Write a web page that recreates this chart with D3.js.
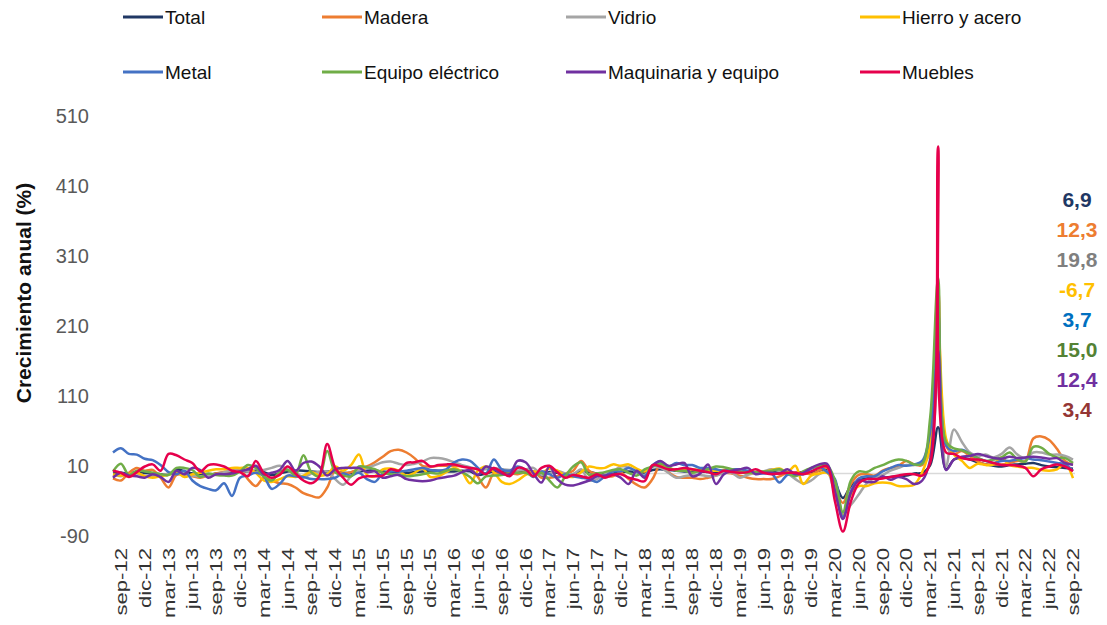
<!DOCTYPE html>
<html>
<head>
<meta charset="utf-8">
<script src="https://cdn.jsdelivr.net/npm/d3@7"></script>
<style>
body { margin: 0; background: #fff; }
text { font-family: "Liberation Sans", Arial, sans-serif; }
</style>
</head>
<body>
<div id="chart"></div>
<script>
// Month categories, ago-12 to sep-22.
const monthNames = ["ene", "feb", "mar", "abr", "may", "jun", "jul", "ago", "sep", "oct", "nov", "dic"];
const months = [];
for (let yr = 2012; yr <= 2022; yr++) {
    for (let m = 0; m < 12; m++) {
        if ((yr === 2012 && m < 7) || (yr === 2022 && m > 8)) continue;
        months.push(monthNames[m] + "-" + String(yr).slice(2));
    }
}

// Annual growth (%) per sector.
const total = [0, 1, 0, 2, 1, 0, -1, -2, 6, 3, 0, -1, -2, 0, 1, 2, 3, 3, 4, 2, -2, 0, 3, 4, 4, 3, 2, 3, 2, 1, 1,
    3, 4, 4, 3, 2, 2, 1, 2, 3, 4, 4, 3, 3, 4, 3, -2, 0, 3, 2, 1, 3, 4, 3, -4, 2, 1, -3, -1, 3, 2, 0,
    -1, 0, 2, 3, 2, 1, 5, 6, 5, 4, 3, 3, 3, 2, 1, 1, 2, 2, 0, 1, 2, 2, 1, 0, 1, 2, 1, 4, 6, -12,
    -35, -18, -10, -7, -6, -6, -5, -4, -3, 0, 1, 12, 66, 6, 20, 22, 20, 16, 13, 11, 10, 12, 13, 14, 15, 12, 10, 9, 8, 6.9];
const madera = [-7, -10, 1, 8, 4, 5, -6, -20, -2, -2, -4, -6, -3, 0, 2, 4, 6, -8, -18, -6, -10, -14, -15, -20, -28, -32, -34, -20, 4, 0, 2,
    6, 10, 16, 24, 32, 34, 30, 22, 11, 10, 11, 11, 11, 10, 8, -5, -20, 0, -1, 0, -1, 2, 3, -6, -6, -4, 0, 4, 18, 4, -1,
    -4, -4, 1, -8, -16, -20, -8, 12, 2, -5, -6, -6, -8, -6, -3, 1, 0, -3, -6, -8, -8, -8, -4, 1, 1, 1, -1, 4, 8, -20,
    -42, -15, -2, -1, -3, 4, 8, 11, 18, 13, 12, 60, 263, 40, 28, 32, 25, 17, 13, 13, 13, 15, 18, 18, 50, 53, 48, 35, 18, 12.3];
const vidrio = [-2, -4, -1, 0, -3, -4, -3, 0, 2, -2, -3, -4, -3, -1, 2, 4, 4, 3, 2, 5, 8, 11, 6, 2, -6, 0, 2, 3, -8, -16, -4,
    4, 8, 12, 16, 17, 14, 12, 14, 17, 22, 22, 20, 16, 12, 9, 6, 6, 8, 6, 5, 4, 6, 8, -2, 0, 4, 0, -1, 6, -10, -8,
    -1, 3, 10, 9, 2, -2, 10, 8, 1, -6, -4, -2, -2, -4, -3, 1, 1, -6, -2, 1, 3, 6, 4, 0, -8, -14, -10, -1, 3, -30,
    -56, -45, -30, -14, -6, -2, 4, 8, 12, 12, 14, 30, 134, 10, 63, 45, 30, 25, 27, 23, 28, 37, 27, 22, 30, 30, 27, 27, 25, 19.8];
const hierro = [-1, -3, -1, 1, -4, -6, -4, -2, 2, -5, -1, 1, 4, 6, 6, 8, 8, 8, 1, -10, -12, -8, -4, -5, -3, 2, -3, -1, 10, 4, 12,
    27, -2, -4, 6, 7, 4, -3, 1, 7, -5, -4, 2, 8, 2, -14, 4, 10, 2, -12, -15, -10, -2, 3, 1, 7, 4, -3, -5, 2, 10, 8,
    8, 13, 11, 13, 7, 3, 11, 13, 8, 5, 5, 6, 5, 4, 4, 5, 6, 2, 1, 1, 2, 5, 7, 2, 11, -15, -3, 0, 1, -15,
    -60, -30, -18, -18, -14, -13, -14, -18, -18, -16, 2, 40, 200, 50, 27, 18, 8, 14, 12, 13, 23, 12, 10, 8, 8, 5, 4, 6, 14, -6.7];
const metal = [30, 36, 28, 27, 21, 19, 12, 2, -1, 4, -10, -18, -22, -24, -14, -32, -6, -3, 1, -4, -22, -15, -3, -4, -5, -8, -8, -8, -6, 0, -3,
    1, -8, -12, 0, 3, 3, 4, 6, 8, 5, 4, 6, 16, 20, 18, 8, 0, 20, 6, 4, 10, 5, -5, 3, -1, -6, -1, -4, -6, -8, -12,
    -4, 3, 3, 8, 3, -4, 12, 17, 10, 15, 12, 12, 8, 8, 6, 4, 6, 6, 4, 1, 0, 0, -13, -2, -1, -1, 7, 10, 2, -8,
    -62, -25, -7, -4, -4, 3, 8, 12, 11, 13, 18, 60, 230, 40, 32, 34, 28, 22, 18, 15, 18, 18, 20, 22, 20, 19, 17, 15, 13, 3.7];
const equipo = [3, 14, -2, 4, 3, 1, -1, -2, 8, 8, 5, -5, 0, -2, -3, -3, 3, 12, 8, -4, -10, 2, 5, -2, 26, 2, -4, 32, 2, -3, -4,
    10, 9, 6, 1, -1, -2, -4, -3, -1, 1, 0, 4, 6, 2, -5, -14, -4, -3, -2, 0, 1, 1, -4, 1, -10, -20, -4, 10, 16, -2, 0,
    2, 5, 6, 1, -3, 6, 10, 14, 9, 4, 4, 1, 4, 6, 10, 9, 6, 3, 1, 2, 3, 4, 6, 1, -4, 3, 8, 11, 12, -10,
    -55, -10, 3, 2, 8, 12, 17, 20, 18, 13, 14, 80, 280, 45, 36, 33, 28, 22, 18, 20, 23, 30, 20, 17, 38, 37, 28, 23, 22, 15.0];
const maquinaria = [-6, 1, -3, -4, -6, -1, -5, -12, 4, -1, 8, 5, -6, -1, -1, 0, 3, 6, 11, -1, 1, 5, 18, 4, 15, 17, 10, -3, 6, 8, 8,
    8, 2, 3, -6, -4, -2, -8, -10, -11, -10, -7, -5, -3, 2, 5, -2, 10, 6, 0, -1, 18, 16, 0, -13, 10, -8, -16, -17, -14, -10, -4,
    -3, -1, -6, -15, 4, -6, 11, 18, 11, 13, 15, -4, 0, 13, -15, -1, 4, 6, 8, -1, 1, 1, 0, 6, -1, 1, 8, 13, 14, -25,
    -65, -28, -10, -12, -12, -4, -9, -5, -8, -15, -10, 20, 176, 5, 20, 24, 25, 28, 25, 22, 21, 24, 22, 23, 24, 23, 21, 22, 15, 12.4];
const muebles = [4, 1, -5, 2, 10, 13, 4, 28, 26, 20, 15, 3, 12, 13, 10, 4, 2, -4, 18, 1, -6, -2, 10, 0, -10, -14, -4, 42, 8, -6, -16,
    -7, -4, -4, -3, 6, 4, 15, 16, 18, 10, 12, 13, 13, 10, 8, 6, -1, 8, 2, -4, 8, 6, -4, 8, 11, 2, -6, -2, -4, -6, -1,
    -6, -2, -1, -6, -9, -11, 12, 10, 6, 6, 8, 6, 4, 2, -1, 4, 2, 1, 2, 6, 1, -1, 0, 1, 1, -1, 3, 8, 10, -40,
    -83, -40, -14, -8, -8, -7, -5, -3, -1, -1, -3, 15, 467, 30, 28, 22, 20, 20, 18, 15, 12, 12, 11, 8, -4, 6, 10, 13, 10, 3.4];

const seriesNames = ["Total", "Madera", "Vidrio", "Hierro y acero", "Metal", "Equipo eléctrico", "Maquinaria y equipo", "Muebles"];
const seriesValues = [total, madera, vidrio, hierro, metal, equipo, maquinaria, muebles];
const lineColors = ["#203864", "#ed7d31", "#a5a5a5", "#ffc000", "#4472c4", "#70ad47", "#7030a0", "#e6004c"];
const labelColors = ["#1f3864", "#ed7d31", "#7f7f7f", "#ffc000", "#0070c0", "#548235", "#7030a0", "#943634"];

const yTicks = [-90, 10, 110, 210, 310, 410, 510];
const xTicks = months.filter((d, i) => i % 3 === 1);

const w = 1107, h = 625;

const xScale = d3.scalePoint()
    .domain(months)
    .range([113, 1073]);
const yScale = d3.scaleLinear()
    .domain([-90, 510])
    .range([536.5, 116.5]);

let svg = d3.select("#chart")
    .append("svg")
    .attr("width", w)
    .attr("height", h);

// Zero reference line.
svg.append("line")
    .attr("x1", xScale.range()[0])
    .attr("x2", xScale.range()[1] + 2)
    .attr("y1", yScale(0))
    .attr("y2", yScale(0))
    .attr("stroke", "#d9d9d9")
    .attr("stroke-width", 1.5);

// Y axis (labels only), plain hyphen for negatives.
const yAxis = d3.axisLeft(yScale)
    .tickValues(yTicks)
    .tickSize(0)
    .tickPadding(3)
    .tickFormat(d => String(d));
const yG = svg.append("g")
    .attr("transform", "translate(92,0)")
    .call(yAxis);
yG.select(".domain").remove();
yG.selectAll("text")
    .attr("font-size", 20)
    .attr("font-family", "Liberation Sans, Arial, sans-serif")
    .attr("fill", "#595959");

// X axis: rotated month labels every quarter.
const xAxis = d3.axisBottom(xScale)
    .tickValues(xTicks)
    .tickSize(0);
const xG = svg.append("g")
    .attr("transform", "translate(0,540)")
    .call(xAxis);
xG.select(".domain").remove();
xG.selectAll("text")
    .attr("x", 0)
    .attr("y", 0)
    .attr("dy", "0.35em")
    .attr("text-anchor", "end")
    .attr("transform", "translate(0,8) rotate(-90) scale(1.38,1)")
    .attr("font-size", 16)
    .attr("font-family", "Liberation Sans, Arial, sans-serif")
    .attr("fill", "#333");

// Axis title.
svg.append("text")
    .attr("transform", "translate(31,293) rotate(-90)")
    .attr("text-anchor", "middle")
    .attr("font-size", 21)
    .attr("font-weight", "bold")
    .attr("fill", "#111")
    .text("Crecimiento anual (%)");

// Lines.
const line = d3.line()
    .x((d, i) => xScale(months[i]))
    .y(d => yScale(d))
    .curve(d3.curveCatmullRom.alpha(0.5));

svg.append("g")
    .selectAll("path")
    .data(seriesValues)
    .enter()
    .append("path")
    .attr("d", d => line(d))
    .attr("fill", "none")
    .attr("stroke", (d, i) => lineColors[i])
    .attr("stroke-width", 2.5)
    .attr("stroke-linejoin", "round");

// Last-value labels on the right (decimal comma, hyphen minus).
const fmt = v => v.toFixed(1).replace(".", ",");
svg.append("g")
    .selectAll("text")
    .data(seriesValues)
    .enter()
    .append("text")
    .attr("x", 1077)
    .attr("y", (d, i) => 200 + i * 30)
    .attr("dy", "0.35em")
    .attr("text-anchor", "middle")
    .attr("font-size", 21)
    .attr("font-weight", "bold")
    .attr("fill", (d, i) => labelColors[i])
    .text(d => fmt(d[d.length - 1]));

// Legend: two rows of four.
const legendX = [123, 322, 566, 860];
const legendY = [17, 72];
const legend = svg.append("g")
    .selectAll("g")
    .data(seriesNames)
    .enter()
    .append("g")
    .attr("transform", (d, i) => `translate(${legendX[i % 4]},${legendY[Math.floor(i / 4)]})`);
legend.append("line")
    .attr("x1", 0)
    .attr("x2", 40)
    .attr("stroke", (d, i) => lineColors[i])
    .attr("stroke-width", 3);
legend.append("text")
    .attr("x", 42)
    .attr("dy", "0.35em")
    .attr("font-size", 19)
    .attr("fill", "#111")
    .text(d => d);
</script>
</body>
</html>
